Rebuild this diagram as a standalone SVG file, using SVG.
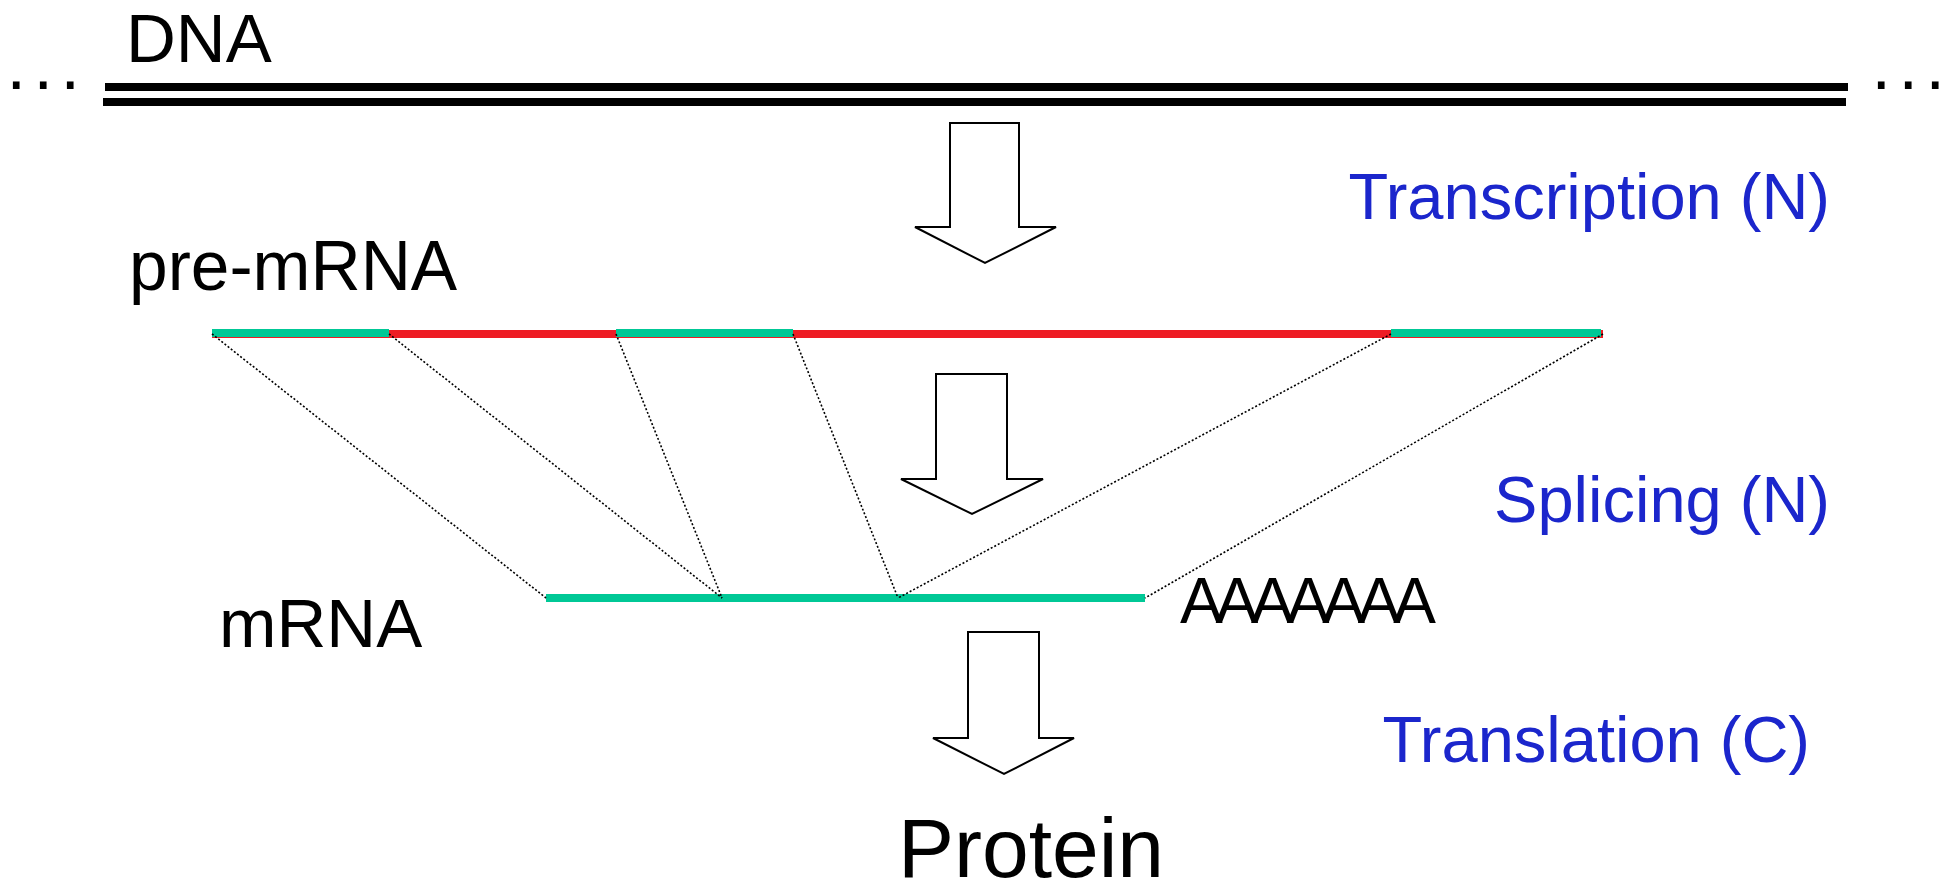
<svg xmlns="http://www.w3.org/2000/svg" width="1958" height="888" viewBox="0 0 1958 888">
<style>
.lbl{font-family:"Liberation Sans",Arial,sans-serif;fill:#000}
.blue{font-family:"Liberation Sans",Arial,sans-serif;fill:#1b26cc;font-size:65px;text-anchor:end}
.arrow{fill:#fff;stroke:#000;stroke-width:2;stroke-linejoin:miter}
.dot{stroke:#000;stroke-width:1.6;stroke-dasharray:2 2;fill:none}
.ex{stroke:#00c896;stroke-width:8}
.in{stroke:#ee1c24;stroke-width:8}
.dna{stroke:#000;stroke-width:8}
</style>
<rect width="1958" height="888" fill="#fff"/>
<g id="dna">
<line class="dna" x1="105" y1="87" x2="1848" y2="87"/>
<line class="dna" x1="103" y1="102" x2="1846" y2="102"/>
<text class="lbl" x="126" y="62" font-size="69">DNA</text>
<text class="lbl" x="6.5" y="89" font-size="70" letter-spacing="7.5">...</text>
<text class="lbl" x="1871.5" y="89" font-size="70" letter-spacing="7.5">...</text>
</g>
<g id="arrow-transcription">
<polygon class="arrow" points="950,123 1019,123 1019,227 1056,227 985,263 915,227 950,227"/>
<text class="blue" x="1830" y="219">Transcription (N)</text>
</g>
<g id="pre-mrna">
<line class="in" x1="212" y1="334" x2="1603" y2="334"/>
<line class="ex" x1="212" y1="333" x2="389" y2="333"/>
<line class="ex" x1="616" y1="333" x2="793" y2="333"/>
<line class="ex" x1="1391" y1="333" x2="1601" y2="333"/>
<text class="lbl" x="129" y="290" font-size="69.5">pre-mRNA</text>
</g>
<g id="arrow-splicing">
<polygon class="arrow" points="936,374 1007,374 1007,479 1043,479 972,514 901,479 936,479"/>
<text class="blue" x="1830" y="522">Splicing (N)</text>
</g>
<g id="mrna">
<line class="ex" x1="546" y1="598" x2="1145" y2="598"/>
<text class="lbl" x="219" y="647" font-size="69">mRNA</text>
<text class="lbl" x="1180" y="623" font-size="64" textLength="256" lengthAdjust="spacing">AAAAAAA</text>
</g>
<g id="arrow-translation">
<polygon class="arrow" points="968,632 1039,632 1039,738 1074,738 1004,774 933,738 968,738"/>
<text class="blue" x="1810" y="762">Translation (C)</text>
</g>
<g id="protein">
<text class="lbl" x="1031" y="877" font-size="84" text-anchor="middle">Protein</text>
</g>
<g id="connectors">
<line class="dot" x1="212" y1="334" x2="546" y2="598"/>
<line class="dot" x1="389" y1="334" x2="722" y2="598"/>
<line class="dot" x1="616" y1="334" x2="722" y2="598"/>
<line class="dot" x1="793" y1="334" x2="898" y2="598"/>
<line class="dot" x1="1391" y1="334" x2="898" y2="598"/>
<line class="dot" x1="1603" y1="334" x2="1145" y2="598"/>
</g>
</svg>
